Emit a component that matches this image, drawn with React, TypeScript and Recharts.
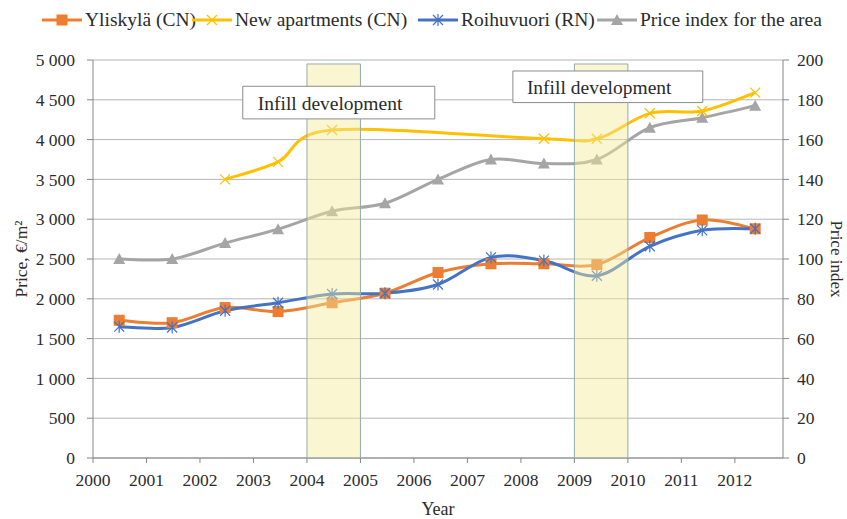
import React from "react";
import {
  LineChart,
  Line,
  XAxis,
  YAxis,
  CartesianGrid,
  ReferenceArea,
} from "recharts";

// x positions of the yearly observations, as placed in the source chart
const pointYears = [
  2000.49, 2001.48, 2002.47, 2003.46, 2004.47, 2005.46, 2006.45, 2007.44,
  2008.43, 2009.42, 2010.41, 2011.39, 2012.38,
];
const yearTicks = [
  2000, 2001, 2002, 2003, 2004, 2005, 2006, 2007, 2008, 2009, 2010, 2011, 2012,
];

const yliskyla = [1730, 1700, 1890, 1840, 1950, 2070, 2330, 2440, 2440, 2430, 2770, 2990, 2880];
const newApartments = [null, null, 3500, 3720, 4120, null, null, null, 4010, 4010, 4330, 4360, 4590];
const roihuvuori = [1650, 1640, 1850, 1950, 2060, 2070, 2180, 2520, 2480, 2290, 2660, 2860, 2880];
const priceIndex = [100, 100, 108, 115, 124, 128, 140, 150, 148, 150, 166, 171, 177];

const priceTicks = [0, 500, 1000, 1500, 2000, 2500, 3000, 3500, 4000, 4500, 5000];
const indexTicks = [0, 20, 40, 60, 80, 100, 120, 140, 160, 180, 200];

const infillPeriods = [
  [2004, 2005],
  [2009, 2010],
];

const data = pointYears.map((year, i) => ({
  year,
  yliskyla: yliskyla[i],
  newApartments: newApartments[i],
  roihuvuori: roihuvuori[i],
  priceIndex: priceIndex[i],
}));

const FONT = '"Liberation Serif", "Times New Roman", serif';
const TEXT = "#2b2b2b";
const AXIS = "#868686";

const ORANGE = "#ED7D31";
const YELLOW = "#FFC000";
const BLUE = "#4472C4";
const GRAY = "#A5A5A5";

// Excel-like smoothed line (bezier with 1/6 neighbour tangents)
function excelSmooth(context: any) {
  let pts: number[][] = [];
  return {
    areaStart() {},
    areaEnd() {},
    lineStart() {
      pts = [];
    },
    point(x: number, y: number) {
      pts.push([+x, +y]);
    },
    lineEnd() {
      const n = pts.length;
      if (!n) return;
      context.moveTo(pts[0][0], pts[0][1]);
      for (let i = 0; i < n - 1; i++) {
        const p0 = pts[i - 1] || pts[i];
        const p1 = pts[i];
        const p2 = pts[i + 1];
        const p3 = pts[i + 2] || p2;
        context.bezierCurveTo(
          p1[0] + (p2[0] - p0[0]) / 6,
          p1[1] + (p2[1] - p0[1]) / 6,
          p2[0] - (p3[0] - p1[0]) / 6,
          p2[1] - (p3[1] - p1[1]) / 6,
          p2[0],
          p2[1]
        );
      }
    },
  };
}

function marker(kind: string, cx: number, cy: number, key?: any) {
  if (kind === "square")
    return <rect key={key} x={cx - 5.5} y={cy - 5.5} width={11} height={11} fill={ORANGE} />;
  if (kind === "cross")
    return (
      <path
        key={key}
        d={`M${cx - 5},${cy - 5}L${cx + 5},${cy + 5}M${cx - 5},${cy + 5}L${cx + 5},${cy - 5}`}
        stroke={YELLOW}
        strokeWidth={1.3}
        fill="none"
      />
    );
  if (kind === "star")
    return (
      <path
        key={key}
        d={`M${cx - 5},${cy - 5}L${cx + 5},${cy + 5}M${cx - 5},${cy + 5}L${cx + 5},${cy - 5}M${cx},${cy - 6}L${cx},${cy + 6}`}
        stroke={BLUE}
        strokeWidth={1.2}
        fill="none"
      />
    );
  return (
    <path
      key={key}
      d={`M${cx},${cy - 6}L${cx + 6},${cy + 5}L${cx - 6},${cy + 5}Z`}
      fill={GRAY}
    />
  );
}

const dotOf = (kind: string) => (props: any) => {
  const { cx, cy, index } = props;
  if (cx == null || cy == null || isNaN(cy)) return <g key={`${kind}-${index}`} />;
  return marker(kind, cx, cy, `${kind}-${index}`);
};

const legendItems = [
  { name: "Yliskylä (CN)", color: ORANGE, kind: "square", left: 42 },
  { name: "New apartments (CN)", color: YELLOW, kind: "cross", left: 192 },
  { name: "Roihuvuori (RN)", color: BLUE, kind: "star", left: 418 },
  { name: "Price index for the area", color: GRAY, kind: "triangle", left: 597 },
];

const fmt = (v: number) =>
  v >= 1000 ? `${Math.floor(v / 1000)} ${String(v % 1000).padStart(3, "0")}` : `${v}`;

const tickStyle = { fill: TEXT, fontSize: 17.5, fontFamily: FONT };

export default function App() {
  return (
    <div
      style={{
        position: "absolute",
        left: 0,
        top: 0,
        width: 847,
        height: 519,
        background: "#fff",
        fontFamily: FONT,
      }}
    >
      {legendItems.map((it) => (
        <div
          key={it.name}
          style={{
            position: "absolute",
            top: 8,
            left: it.left,
            display: "flex",
            alignItems: "center",
            fontSize: 19.5,
            color: TEXT,
            whiteSpace: "nowrap",
            lineHeight: "24px",
          }}
        >
          <svg width={40} height={14}>
            <line x1={0} y1={7} x2={40} y2={7} stroke={it.color} strokeWidth={3} />
            {marker(it.kind, 20, 7)}
          </svg>
          <span style={{ marginLeft: 3 }}>{it.name}</span>
        </div>
      ))}
      <LineChart
        width={847}
        height={519}
        data={data}
        margin={{ top: 60, right: 0, bottom: 0, left: 0 }}
        style={{ fontFamily: FONT }}
      >
        <CartesianGrid vertical={false} stroke="#b4b4b4" strokeWidth={1} />
        <XAxis
          dataKey="year"
          type="number"
          domain={[2000, 2012.9]}
          ticks={yearTicks}
          interval={0}
          height={61}
          stroke={AXIS}
          tickSize={5}
          tickMargin={11}
          tick={tickStyle}
          label={{ value: "Year", position: "insideBottom", offset: 4, fill: TEXT, fontSize: 18, fontFamily: FONT }}
        />
        <YAxis
          domain={[0, 5000]}
          ticks={priceTicks}
          interval={0}
          width={93}
          stroke={AXIS}
          tickSize={6}
          tickMargin={12}
          tickFormatter={fmt}
          tick={tickStyle}
          label={{
            value: "Price, €/m²",
            angle: -90,
            position: "insideLeft",
            offset: 21,
            fill: TEXT,
            fontSize: 17.5,
            fontFamily: FONT,
            style: { textAnchor: "middle" },
          }}
        />
        <YAxis
          yAxisId="right"
          orientation="right"
          domain={[0, 200]}
          ticks={indexTicks}
          interval={0}
          width={64}
          stroke={AXIS}
          tickSize={6}
          tickMargin={8}
          tick={tickStyle}
          label={{
            value: "Price index",
            angle: 90,
            position: "insideRight",
            offset: 10,
            fill: TEXT,
            fontSize: 17,
            fontFamily: FONT,
            style: { textAnchor: "middle" },
          }}
        />
        <Line
          dataKey="yliskyla"
          type={excelSmooth as any}
          stroke={ORANGE}
          strokeWidth={3}
          dot={dotOf("square")}
          activeDot={false}
          isAnimationActive={false}
        />
        <Line
          dataKey="newApartments"
          type={excelSmooth as any}
          stroke={YELLOW}
          strokeWidth={3}
          connectNulls
          dot={dotOf("cross")}
          activeDot={false}
          isAnimationActive={false}
        />
        <Line
          dataKey="roihuvuori"
          type={excelSmooth as any}
          stroke={BLUE}
          strokeWidth={3}
          dot={dotOf("star")}
          activeDot={false}
          isAnimationActive={false}
        />
        <Line
          dataKey="priceIndex"
          yAxisId="right"
          type={excelSmooth as any}
          stroke={GRAY}
          strokeWidth={3}
          dot={dotOf("triangle")}
          activeDot={false}
          isAnimationActive={false}
        />
        {infillPeriods.map(([a, b]) => (
          <ReferenceArea
            key={`infill-${a}`}
            x1={a}
            x2={b}
            y1={0}
            y2={4950}
            fill="#F2EC9A"
            fillOpacity={0.45}
            stroke="#93acac"
            strokeWidth={1}
            zIndex={600}
          />
        ))}
        <ReferenceArea
          x1={2002.8}
          x2={2006.39}
          y1={4260}
          y2={4670}
          fill="#ffffff"
          fillOpacity={1}
          stroke="#8c8c8c"
          strokeWidth={1}
          zIndex={700}
          label={{ value: "Infill development", position: "insideLeft", offset: 15, fill: TEXT, fontSize: 19.5, fontFamily: FONT }}
        />
        <ReferenceArea
          x1={2007.85}
          x2={2011.4}
          y1={4465}
          y2={4862}
          fill="#ffffff"
          fillOpacity={1}
          stroke="#8c8c8c"
          strokeWidth={1}
          zIndex={700}
          label={{ value: "Infill development", position: "insideLeft", offset: 14, fill: TEXT, fontSize: 19.5, fontFamily: FONT }}
        />
      </LineChart>
    </div>
  );
}
